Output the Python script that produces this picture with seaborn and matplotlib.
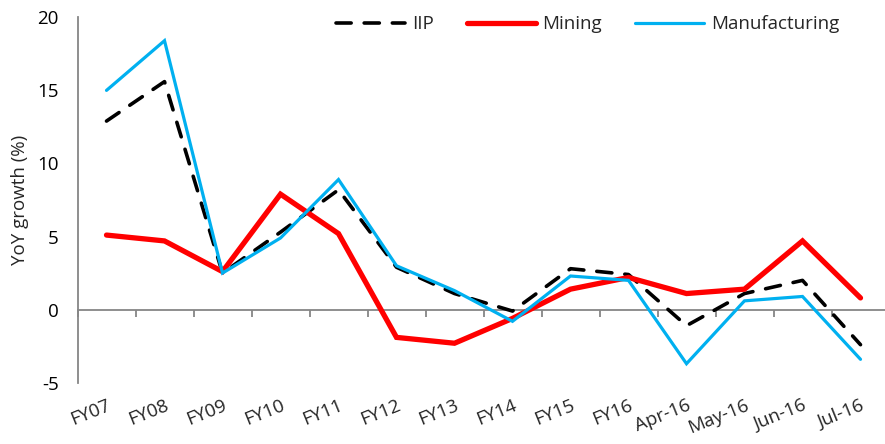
import matplotlib
matplotlib.use("Agg")
import matplotlib.pyplot as plt
import numpy as np
import pandas as pd
import seaborn as sns

# Periods on the x axis
categories = ["FY07", "FY08", "FY09", "FY10", "FY11", "FY12", "FY13", "FY14",
              "FY15", "FY16", "Apr-16", "May-16", "Jun-16", "Jul-16"]

# YoY growth (%) for each index
iip = [12.9, 15.6, 2.5, 5.3, 8.2, 2.9, 1.1, -0.1, 2.8, 2.4, -1.1, 1.1, 2.0, -2.4]
mining = [5.1, 4.7, 2.6, 7.9, 5.2, -1.9, -2.3, -0.6, 1.4, 2.2, 1.1, 1.4, 4.7, 0.8]
manufacturing = [15.0, 18.4, 2.5, 4.9, 8.9, 3.0, 1.3, -0.8, 2.3, 2.0, -3.7, 0.6, 0.9, -3.4]

yticks = [-5, 0, 5, 10, 15, 20]

series = {"IIP": iip, "Mining": mining, "Manufacturing": manufacturing}
df = pd.concat(
    [pd.DataFrame({"pos": np.arange(len(categories)), "period": categories,
                   "value": vals, "series": name})
     for name, vals in series.items()],
    ignore_index=True,
)

sns.set_style("white")
plt.rcParams["font.family"] = ["Open Sans", "DejaVu Sans"]

FS = 13.5

styles = {
    "IIP": dict(color="black", linewidth=2.6, dashes=(4.2, 3.6)),
    "Mining": dict(color="#FF0000", linewidth=3.8),
    "Manufacturing": dict(color="#00B0F0", linewidth=2.3),
}

W, H = 885, 444
fig = plt.figure(figsize=(W / 100, H / 100), dpi=100)
ax = fig.add_axes([77.5 / W, 61.3 / H, 812 / W, 365.4 / H])

for name in series:
    st = styles[name]
    sub = df[df["series"] == name]
    sns.lineplot(data=sub, x="pos", y="value", ax=ax, color=st["color"],
                 linewidth=st["linewidth"], label=name, legend=False)
    ln = ax.lines[-1]
    ln.set_solid_capstyle("round")
    ln.set_solid_joinstyle("miter")
    if "dashes" in st:
        ln.set_dashes(st["dashes"])
        ln.set_dash_capstyle("round")

ax.set_xlim(-0.5, len(categories) - 0.5)
ax.set_ylim(-5, 20)

gray = "#868686"
# y axis
ax.set_yticks(yticks)
ax.set_yticklabels([str(v) for v in yticks])
ax.spines["left"].set_color(gray)
ax.spines["left"].set_linewidth(1.3)
ax.tick_params(axis="y", which="major", direction="out", length=5.5,
               width=1.3, color=gray, pad=8, labelcolor="black",
               labelsize=FS)

# zero line with boundary ticks
ax.spines["top"].set_position(("data", 0))
ax.spines["top"].set_color(gray)
ax.spines["top"].set_linewidth(1.3)
ax.spines["top"].set_zorder(1)
ax.set_xticks(np.arange(-0.5, len(categories), 1.0), minor=True)
ax.tick_params(axis="x", which="minor", top=True, bottom=False,
               direction="in", length=5, width=1.3, color=gray,
               labeltop=False, labelbottom=False)

# category labels along the bottom, spine hidden
ax.spines["bottom"].set_visible(False)
ax.spines["right"].set_visible(False)
ax.set_xticks(np.arange(len(categories)))
ax.set_xticklabels(categories)
ax.tick_params(axis="x", which="major", bottom=True, top=False, length=0,
               pad=10, labelsize=FS, labelrotation=22)
plt.setp(ax.get_xticklabels(), ha="right", va="top",
         rotation_mode="anchor")

ax.set_xlabel("")
ax.set_ylabel("YoY growth (%)", fontsize=FS)
ax.yaxis.set_label_coords(-0.06, 0.5)

handles = ax.get_lines()[:3]
fig.legend(handles, list(series.keys()), loc="center",
           bbox_to_anchor=(0.664, 0.945), ncol=3, frameon=False,
           fontsize=FS, handlelength=3.7, handletextpad=0.35,
           columnspacing=1.75)

fig.savefig("out.png", dpi=100, facecolor="white")
